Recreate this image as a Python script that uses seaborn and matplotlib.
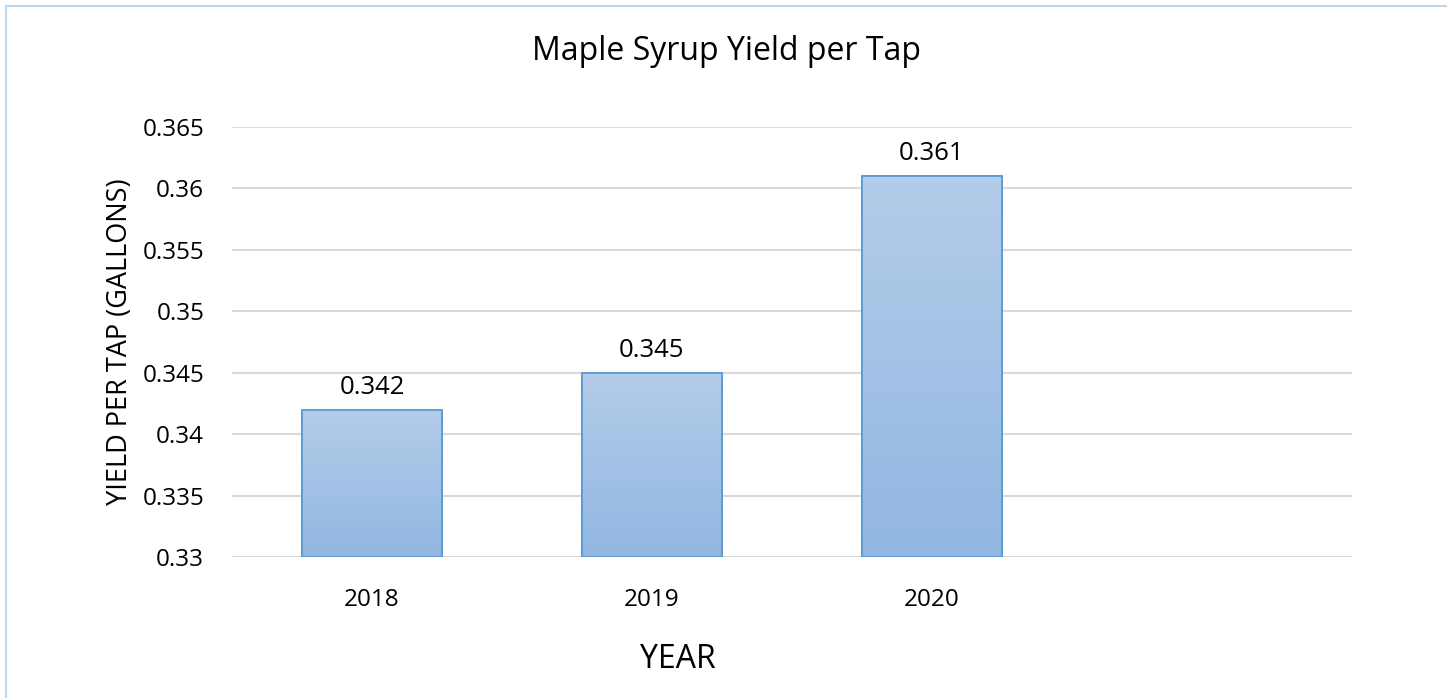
import numpy as np
import pandas as pd
import matplotlib
matplotlib.use("Agg")
import matplotlib.pyplot as plt
import seaborn as sns
from matplotlib.colors import LinearSegmentedColormap
from matplotlib.patches import Rectangle

# Chart data
years = ["2018", "2019", "2020"]
yield_per_tap = [0.342, 0.345, 0.361]
slot_order = years + [""]   # empty fourth slot, as in the original chart
y_min, y_max = 0.33, 0.365
ytick_labels = ["0.33", "0.335", "0.34", "0.345", "0.35", "0.355", "0.36", "0.365"]

sns.set_theme(style="white")
plt.rcParams["font.family"] = ["Open Sans", "DejaVu Sans"]
plt.rcParams["text.color"] = "black"
plt.rcParams["axes.labelcolor"] = "black"

df = pd.DataFrame({"year": years, "yield": yield_per_tap})

fig = plt.figure(figsize=(14.47, 6.98), dpi=100)
ax = fig.add_axes([232 / 1447, 1 - 557 / 698, 1120 / 1447, 430 / 698])

sns.barplot(data=df, x="year", y="yield", order=slot_order, width=0.5,
            color="#9dbde6", edgecolor="#5b9bd5", linewidth=1.3, ax=ax,
            zorder=3)

ax.set_ylim(y_min, y_max)
ax.set_xlim(-0.5, 3.5)
ax.set_yticks(np.linspace(y_min, y_max, len(ytick_labels)))
ax.set_yticklabels(ytick_labels)

# light gradient fill inside each bar (only the visible part)
grad = LinearSegmentedColormap.from_list("bar", ["#92b7e2", "#b3cce9"])
for patch in list(ax.patches):
    x0, w, h = patch.get_x(), patch.get_width(), patch.get_height()
    if np.isnan(h) or h == 0:
        continue
    top = patch.get_y() + h
    ax.imshow(np.linspace(0, 1, 100).reshape(-1, 1), cmap=grad,
              origin="lower", aspect="auto",
              extent=[x0, x0 + w, y_min, top], zorder=3.5)
    ax.add_patch(Rectangle((x0, y_min), w, top - y_min, fill=False,
                           edgecolor="#5b9bd5", linewidth=1.3, zorder=4))
    ax.annotate(f"{h:.3f}", (x0 + w / 2, top), xytext=(0, 11.5),
                textcoords="offset points", ha="center", va="baseline",
                fontsize=18.5, color="black", zorder=5)

ax.set_xlim(-0.5, 3.5)
ax.set_ylim(y_min, y_max)

ax.grid(axis="y", color="#d9d9d9", linewidth=1.5, zorder=0)
for s in ax.spines.values():
    s.set_visible(False)
ax.tick_params(axis="both", length=0, labelsize=17.5, colors="black")
ax.tick_params(axis="y", pad=20)
ax.tick_params(axis="x", pad=22)

ax.set_xlabel("")
ax.set_ylabel("YIELD PER TAP (GALLONS)", fontsize=19.5, labelpad=6)
fig.text(678 / 1447, 1 - 660 / 698, "YEAR", ha="center", va="center",
         fontsize=23)
fig.text(727 / 1447, 1 - 52 / 698, "Maple Syrup Yield per Tap", ha="center",
         va="center", fontsize=23)

# chart frame (only top and left edges fall inside the image)
fig.patches.append(Rectangle((6 / 1447, -0.1), 1.2, 1 - 6 / 698 + 0.1,
                             transform=fig.transFigure, fill=False,
                             edgecolor="#bdd7ee", linewidth=1.5))

fig.savefig("out.png", dpi=100)
